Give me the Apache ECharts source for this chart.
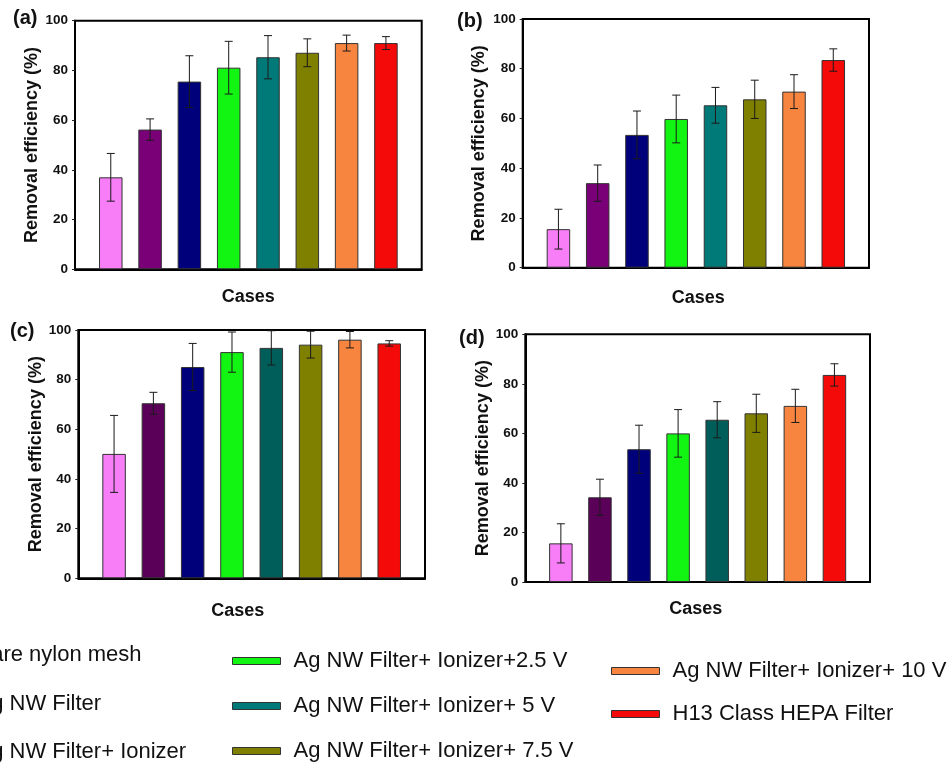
<!DOCTYPE html>
<html>
<head>
<meta charset="utf-8">
<script src="https://cdn.jsdelivr.net/npm/echarts@6/dist/echarts.min.js"></script>
<style>
  html, body { margin: 0; padding: 0; background: #fff; }
  #chart { width: 950px; height: 764px; }
</style>
</head>
<body>
<div id="chart"></div>
<script>
// Filter cases, in bar order
const cases = [
  'Bare nylon mesh',
  'Ag NW Filter',
  'Ag NW Filter+ Ionizer',
  'Ag NW Filter+ Ionizer+2.5 V',
  'Ag NW Filter+ Ionizer+ 5 V',
  'Ag NW Filter+ Ionizer+ 7.5 V',
  'Ag NW Filter+ Ionizer+ 10 V',
  'H13 Class HEPA Filter'
];

// Removal efficiency (%) and standard deviation for each panel
const valuesA = [37.0, 56.2, 75.5, 81.1, 85.3, 87.1, 91.0, 91.0];
const errorsA = [9.6, 4.3, 10.4, 10.6, 8.7, 5.6, 3.2, 2.6];
const valuesB = [15.5, 34.0, 53.4, 59.8, 65.3, 67.7, 70.8, 83.5];
const errorsB = [8.0, 7.3, 9.6, 9.6, 7.2, 7.7, 6.8, 4.5];
const valuesC = [50.1, 70.5, 85.1, 91.1, 92.8, 94.1, 96.1, 94.6];
const errorsC = [15.5, 4.4, 9.5, 8.1, 6.9, 5.4, 3.3, 1.1];
const valuesD = [15.6, 34.2, 53.6, 60.0, 65.5, 68.1, 71.1, 83.6];
const errorsD = [7.9, 7.3, 9.7, 9.6, 7.3, 7.7, 6.7, 4.5];

const panelLabels = ['(a)', '(b)', '(c)', '(d)'];
const yTicks = [0, 20, 40, 60, 80, 100];

const colorsAB = ['#f77ef7', '#7a0078', '#00007a', '#12f512', '#007a78', '#7f7f00', '#f7843f', '#f50a0a'];
const colorsCD = ['#f77ef7', '#5a0058', '#00007a', '#12f512', '#005e5a', '#7f7f00', '#f7843f', '#f50a0a'];

const FONT = 'Liberation Sans, Arial, Helvetica, sans-serif';

const panels = [
  { values: valuesA, errors: errorsA, colors: colorsAB,
    grid: { left: 75, top: 20.7, width: 346.7, height: 248.6 },
    nameGapY: 34, nameGapX: 19, casesPad: [0, 0, 0, 0],
    label: { left: 13, top: 8 } },
  { values: valuesB, errors: errorsB, colors: colorsAB,
    grid: { left: 522.7, top: 19, width: 346.3, height: 248.7 },
    nameGapY: 35, nameGapX: 21.5, casesPad: [0, 0, 0, 5],
    label: { left: 457, top: 11 } },
  { values: valuesC, errors: errorsC, colors: colorsCD,
    grid: { left: 78.3, top: 330, width: 346.7, height: 248.3 },
    nameGapY: 33, nameGapX: 24, casesPad: [0, 28, 0, 0],
    label: { left: 10, top: 321 } },
  { values: valuesD, errors: errorsD, colors: colorsCD,
    grid: { left: 525.3, top: 334.3, width: 344.7, height: 247.7 },
    nameGapY: 33.5, nameGapX: 18, casesPad: [0, 4, 0, 0],
    label: { left: 459, top: 328 } }
];

const grids = [], xAxes = [], yAxes = [], series = [], titles = [];

panels.forEach((p, k) => {
  grids.push(Object.assign({
    show: true, borderColor: '#000', borderWidth: 2, backgroundColor: 'transparent',
    containLabel: false
  }, p.grid));

  titles.push({
    text: panelLabels[k], left: p.label.left, top: p.label.top, padding: 0,
    textStyle: { fontFamily: FONT, fontWeight: 'bold', fontSize: 20, color: '#111' }
  });

  xAxes.push({
    type: 'value', gridIndex: k, min: 0.09, max: 8.91,
    name: 'Cases', nameLocation: 'middle', nameGap: p.nameGapX,
    nameTextStyle: { fontFamily: FONT, fontWeight: 'bold', fontSize: 18, color: '#111', padding: p.casesPad },
    axisLine: { show: true, lineStyle: { color: '#000', width: 2 } },
    axisTick: { show: false }, axisLabel: { show: false }, splitLine: { show: false }
  });

  yAxes.push({
    type: 'value', gridIndex: k, min: yTicks[0], max: yTicks[yTicks.length - 1], interval: 20,
    name: 'Removal efficiency (%)', nameLocation: 'middle', nameGap: p.nameGapY,
    nameTextStyle: { fontFamily: FONT, fontWeight: 'bold', fontSize: 18, color: '#111' },
    axisLine: { show: true, lineStyle: { color: '#000', width: 2 } },
    axisTick: { show: true, inside: false, length: 3, lineStyle: { color: '#222', width: 1 } },
    axisLabel: { fontFamily: FONT, fontWeight: 'bold', fontSize: 13.5, color: '#111', margin: 7,
                 showMinLabel: true, showMaxLabel: true },
    splitLine: { show: false }
  });

  // One bar series per case so the legend can name each colour
  cases.forEach((name, i) => {
    series.push({
      type: 'bar', name: name, xAxisIndex: k, yAxisIndex: k,
      barWidth: 23.5, barGap: '-100%',
      data: [[i + 1, p.values[i]]],
      itemStyle: { color: p.colors[i], borderColor: '#333', borderWidth: 1 },
      emphasis: { disabled: true }
    });
  });

  // Error bars (mean ± SD) with short caps
  series.push({
    type: 'custom', name: 'err' + k, xAxisIndex: k, yAxisIndex: k, z: 5,
    encode: { x: 0, y: [1, 2] },
    data: p.values.map((v, i) => [i + 1, v - p.errors[i], v + p.errors[i]]),
    renderItem: function (params, api) {
      const x = api.value(0);
      const lo = api.coord([x, api.value(1)]);
      const hi = api.coord([x, api.value(2)]);
      const cap = 4;
      const style = { stroke: '#1a1a1a', lineWidth: 1 };
      return {
        type: 'group',
        children: [
          { type: 'line', shape: { x1: hi[0], y1: hi[1], x2: lo[0], y2: lo[1] }, style: style },
          { type: 'line', shape: { x1: hi[0] - cap, y1: hi[1], x2: hi[0] + cap, y2: hi[1] }, style: style },
          { type: 'line', shape: { x1: lo[0] - cap, y1: lo[1], x2: lo[0] + cap, y2: lo[1] }, style: style }
        ]
      };
    }
  });
});

const legendBase = {
  orient: 'vertical', icon: 'rect', itemWidth: 48, itemHeight: 7, padding: 0,
  selectedMode: false,
  itemStyle: { borderColor: '#333', borderWidth: 1 },
  textStyle: { fontFamily: FONT, fontSize: 22, color: '#111', padding: [0, 0, 0, 8] }
};

const legends = [
  Object.assign({}, legendBase, { left: -85, top: 644, itemGap: 26.5, data: cases.slice(0, 3) }),
  Object.assign({}, legendBase, { left: 232, top: 650, itemGap: 23, data: cases.slice(3, 6) }),
  Object.assign({}, legendBase, { left: 611, top: 660, itemGap: 21, data: cases.slice(6, 8) })
];

const chart = echarts.init(document.getElementById('chart'), null, { renderer: 'canvas' });
chart.setOption({
  animation: false,
  backgroundColor: '#fff',
  title: titles,
  grid: grids,
  xAxis: xAxes,
  yAxis: yAxes,
  legend: legends,
  series: series
});
</script>
</body>
</html>
